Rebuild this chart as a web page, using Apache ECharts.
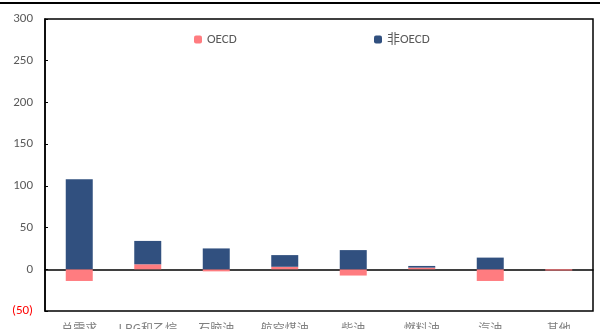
<!DOCTYPE html>
<html>
<head>
<meta charset="UTF-8">
<title>OECD / 非OECD</title>
<script src="https://cdn.jsdelivr.net/npm/echarts@6/dist/echarts.min.js"></script>
<style>
  html, body { margin: 0; padding: 0; background: #fff; }
  #main { width: 600px; height: 329px; }
</style>
</head>
<body>
<div id="main"></div>
<script>
// 数据
var categories = ['总需求', 'LPG和乙烷', '石脑油', '航空煤油', '柴油', '燃料油', '汽油', '其他'];
var oecdValues = [-14, 6, -2.5, 3, -7.5, 2, -14, -1.5];
var nonOecdValues = [108, 28, 25, 14, 23, 2, 14, 0];
var yTicks = [-50, 0, 50, 100, 150, 200, 250, 300];

var myChart = echarts.init(document.getElementById('main'));
var font = 'Calibri, "Liberation Sans", "Noto Sans CJK SC", sans-serif';

myChart.setOption({
  animation: false,
  textStyle: { fontFamily: font },
  graphic: [{
    type: 'line',
    shape: { x1: 0, y1: 3, x2: 600, y2: 3 },
    style: { stroke: '#000', lineWidth: 2 }
  }],
  legend: [{
    left: 189, top: 28,
    itemWidth: 8, itemHeight: 8, itemGap: 4,
    textStyle: { color: '#595959', fontSize: 13, fontFamily: font },
    data: ['OECD']
  }, {
    left: 369, top: 28,
    itemWidth: 8, itemHeight: 8, itemGap: 4,
    textStyle: { color: '#595959', fontSize: 13, fontFamily: font },
    data: ['非OECD']
  }],
  grid: {
    left: 45, right: 7, top: 19, bottom: 18,
    outerBoundsMode: 'none',
    containLabel: false,
    show: true, borderColor: '#000', borderWidth: 1.5
  },
  xAxis: [{
    type: 'category',
    data: categories,
    axisLine: { onZero: true, lineStyle: { color: '#000', width: 1.5 } },
    axisTick: { inside: true, length: 3, lineStyle: { color: '#000' } },
    axisLabel: { show: false }
  }, {
    type: 'category',
    data: categories,
    position: 'bottom',
    axisLine: { show: false },
    axisTick: { show: false },
    axisLabel: { color: '#7f7f7f', fontSize: 12, margin: 11, interval: 0,
      fontFamily: '"Noto Sans CJK SC", sans-serif' }
  }],
  yAxis: {
    type: 'value',
    min: yTicks[0], max: yTicks[yTicks.length - 1], interval: 50,
    splitLine: { show: false },
    axisLine: { show: true, lineStyle: { color: '#000', width: 1.5 } },
    axisTick: { show: true, inside: true, length: 3, lineStyle: { color: '#000' } },
    axisLabel: {
      margin: 12,
      fontSize: 13,
      color: '#595959',
      formatter: function (v) {
        return v < 0 ? '{neg|(' + Math.abs(v) + ')}' : String(v);
      },
      rich: { neg: { color: '#ff0000', fontSize: 13 } }
    }
  },
  series: [{
    name: 'OECD',
    type: 'bar',
    stack: 'total',
    barWidth: 27,
    itemStyle: { color: '#ff7c80' },
    data: oecdValues
  }, {
    name: '非OECD',
    type: 'bar',
    stack: 'total',
    barWidth: 27,
    itemStyle: { color: '#31507f' },
    data: nonOecdValues
  }]
});
</script>
</body>
</html>
